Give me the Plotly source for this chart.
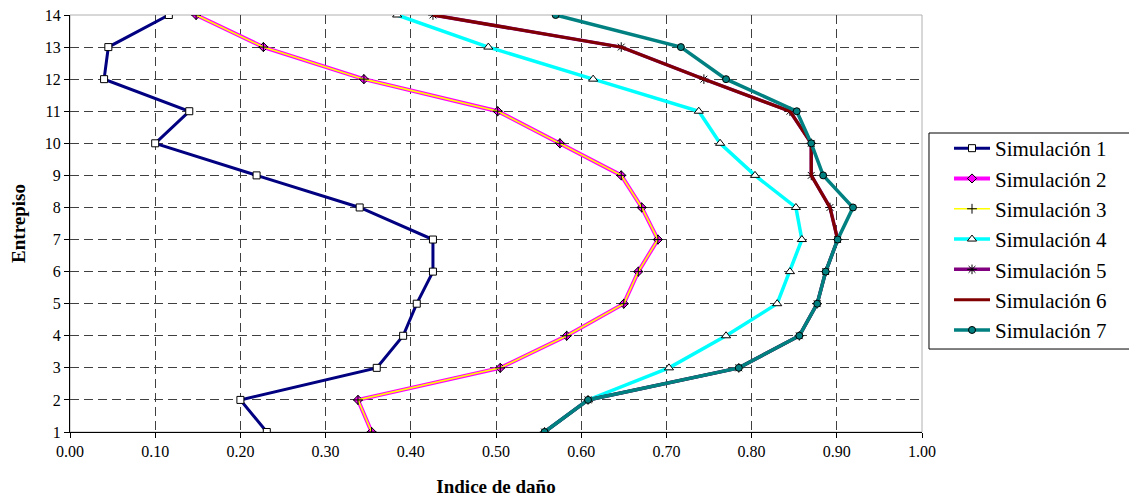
import plotly.graph_objects as go

entrepiso = list(range(1, 15))

sim1 = [0.231, 0.200, 0.360, 0.391, 0.407, 0.426, 0.426, 0.340, 0.219, 0.100, 0.140, 0.040, 0.045, 0.116]
sim2 = [0.354, 0.338, 0.505, 0.583, 0.650, 0.667, 0.690, 0.671, 0.647, 0.575, 0.502, 0.345, 0.227, 0.148]
sim3 = [0.354, 0.338, 0.505, 0.583, 0.650, 0.667, 0.690, 0.671, 0.647, 0.575, 0.502, 0.345, 0.227, 0.148]
sim4 = [0.557, 0.608, 0.703, 0.770, 0.830, 0.845, 0.859, 0.852, 0.804, 0.763, 0.738, 0.614, 0.491, 0.384]
sim5 = [0.557, 0.608, 0.785, 0.856, 0.877, 0.887, 0.901, 0.892, 0.870, 0.870, 0.845, 0.744, 0.647, 0.426]
sim6 = [0.557, 0.608, 0.785, 0.856, 0.877, 0.887, 0.901, 0.892, 0.870, 0.870, 0.845, 0.744, 0.647, 0.426]
sim7 = [0.557, 0.608, 0.785, 0.856, 0.877, 0.887, 0.901, 0.919, 0.884, 0.870, 0.853, 0.770, 0.717, 0.570]

x_ticks = [0.0, 0.1, 0.2, 0.3, 0.4, 0.5, 0.6, 0.7, 0.8, 0.9, 1.0]

SERIF = "Times New Roman"

fig = go.Figure()

def add(name, xs, color, width, symbol=None, mfill=None, msize=7, mline="black"):
    mode = "lines+markers" if symbol else "lines"
    marker = dict(symbol=symbol, size=msize, color=mfill, line=dict(color=mline, width=1)) if symbol else None
    fig.add_trace(go.Scatter(
        x=xs, y=entrepiso, name=name, mode=mode,
        line=dict(color=color, width=width),
        marker=marker, legendgroup=name,
    ))

add("Simulación 1", sim1, "#000080", 3, "square", "white", 7)
add("Simulación 2", sim2, "#FF00FF", 4, "diamond", "#FF00FF", 7)
add("Simulación 3", sim3, "#FFFF00", 1.6, "cross-thin", "black", 7)
add("Simulación 4", sim4, "#00FFFF", 3.5, "triangle-up", "white", 8)
add("Simulación 5", sim5, "#800080", 3.5, "asterisk", "black", 8)
add("Simulación 6", sim6, "#800000", 3)
add("Simulación 7", sim7, "#008080", 3.5, "circle", "#008080", 7)

fig.update_layout(
    width=1137, height=500,
    margin=dict(l=62, r=223, t=7, b=76, autoexpand=False),
    paper_bgcolor="white", plot_bgcolor="white",
    font=dict(family=SERIF, color="black", size=16),
    showlegend=True,
    legend=dict(
        x=1.0317, y=0.729, xanchor="left", yanchor="top",
        borderwidth=0, bgcolor="rgba(0,0,0,0)",
        font=dict(family=SERIF, size=21, color="black"),
        tracegroupgap=0, itemwidth=36,
    ),
    xaxis=dict(
        range=[0, 1], tickvals=x_ticks, tickformat=".2f",
        showgrid=True, gridcolor="#404040", gridwidth=1, griddash="9px,5px",
        showline=True, linecolor="black", linewidth=1,
        ticks="outside", ticklen=5, tickcolor="black",
        zeroline=False, automargin=False, ticklabeloverflow="allow",
        title=dict(text="<b>Indice de daño</b>", font=dict(family=SERIF, size=19), standoff=20),
        tickfont=dict(family=SERIF, size=16),
    ),
    yaxis=dict(
        range=[1, 14], dtick=1, tick0=1,
        showgrid=True, gridcolor="#404040", gridwidth=1, griddash="9px,5px",
        showline=True, linecolor="black", linewidth=1,
        ticks="outside", ticklen=5, tickcolor="black",
        zeroline=False, automargin=False, ticklabeloverflow="allow",
        title=dict(text="<b>Entrepiso</b>", font=dict(family=SERIF, size=19), standoff=16),
        tickfont=dict(family=SERIF, size=16),
    ),
)

fig.add_shape(type="rect", xref="paper", yref="paper", x0=0, y0=0, x1=1, y1=1,
              line=dict(color="#b0b0b0", width=1), layer="below")
fig.add_shape(type="rect", xref="paper", yref="paper", x0=1.0082, x1=1.25, y0=0.199, y1=0.717,
              line=dict(color="black", width=1), fillcolor="white", layer="below")

fig.write_html("out.html")
